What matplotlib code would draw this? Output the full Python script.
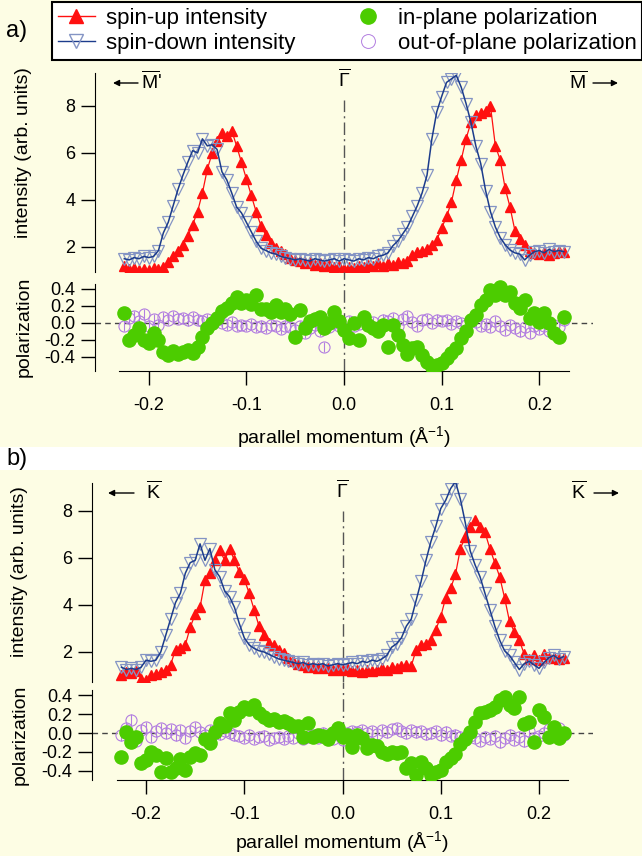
import numpy as np
import matplotlib.pyplot as plt
from matplotlib.lines import Line2D
from matplotlib.patches import Rectangle

plt.rcParams['font.family'] = ['Liberation Sans', 'DejaVu Sans']
plt.rcParams['mathtext.fontset'] = 'custom'
plt.rcParams['mathtext.rm'] = 'Liberation Sans'
plt.rcParams['mathtext.it'] = 'Liberation Sans:italic'
plt.rcParams['mathtext.bf'] = 'Liberation Sans:bold'
plt.rcParams['axes.unicode_minus'] = False

# parallel momentum grid (1/A)
k = np.linspace(-0.225, 0.225, 91)

# ---- panel a: M' - Gamma - M ----
up_a = [1.20, 1.05, 1.10, 1.00, 1.05, 1.00, 1.10, 1.05, 1.15, 1.35,
        1.60, 1.85, 2.10, 2.45, 2.95, 3.50, 4.30, 5.30, 6.00, 6.50,
        6.85, 6.70, 6.95, 6.30, 5.60, 4.90, 4.20, 3.50, 2.90, 2.50,
        2.15, 1.95, 1.85, 1.70, 1.55, 1.45, 1.40, 1.30, 1.35, 1.25,
        1.30, 1.20, 1.25, 1.15, 1.20, 1.05, 1.15, 1.10, 1.20, 1.15,
        1.25, 1.20, 1.30, 1.20, 1.30, 1.25, 1.35, 1.30, 1.40, 1.65,
        1.80, 1.85, 1.90, 2.10, 2.30, 2.80, 3.30, 3.90, 4.85, 5.70,
        6.60, 7.30, 7.60, 7.70, 7.80, 8.00, 6.30, 5.70, 4.50, 3.70,
        2.70, 2.35, 2.10, 1.85, 1.75, 1.70, 1.80, 1.65, 1.75, 1.85,
        1.80]
down_a = [1.50, 1.45, 1.55, 1.50, 1.60, 1.55, 1.60, 1.85, 2.60, 3.05,
          3.75, 4.45, 5.05, 5.60, 6.10, 6.00, 6.60, 6.30, 6.35, 6.15,
          5.20, 4.85, 4.30, 3.70, 3.45, 3.05, 2.65, 2.25, 1.95, 1.85,
          1.75, 1.70, 1.60, 1.55, 1.50, 1.45, 1.50, 1.45, 1.40, 1.50,
          1.45, 1.40, 1.45, 1.50, 1.40, 1.50, 1.45, 1.40, 1.50, 1.45,
          1.55, 1.50, 1.60, 1.65, 1.75, 2.05, 2.25, 2.55, 2.85, 3.30,
          3.75, 4.30, 5.05, 6.60, 7.75, 8.40, 9.00, 9.15, 9.30, 8.80,
          8.10, 7.30, 6.30, 5.55, 4.40, 3.50, 2.85, 2.40, 2.10, 1.87,
          1.75, 1.70, 1.45, 1.65, 1.80, 1.85, 1.75, 1.90, 1.80, 1.85,
          1.80]
inplane_a = [0.12, -0.20, -0.14, -0.06, -0.20, -0.24, -0.12, -0.20, -0.34, -0.38,
             -0.33, -0.36, -0.34, -0.32, -0.35, -0.28, -0.17, -0.06, 0.00, 0.06,
             0.14, 0.18, 0.24, 0.30, 0.23, 0.27, 0.22, 0.33, 0.17, 0.16,
             0.13, 0.21, 0.13, 0.17, 0.10, -0.16, 0.15, -0.06, 0.02, 0.05,
             0.07, -0.06, 0.00, 0.13, 0.02, -0.08, -0.18, 0.00, -0.20, 0.07,
             -0.02, -0.06, -0.10, -0.02, -0.28, -0.02, -0.14, -0.26, -0.36, -0.30,
             -0.28, -0.38, -0.46, -0.52, -0.50, -0.47, -0.41, -0.35, -0.30, -0.18,
             -0.10, 0.03, 0.09, 0.21, 0.27, 0.39, 0.33, 0.42, 0.33, 0.37,
             0.23, 0.18, 0.27, 0.06, 0.12, 0.01, 0.12, 0.00, -0.12, -0.16,
             0.07]
outplane_a = [-0.03, 0.06, 0.08, 0.02, 0.10, -0.04, 0.05, -0.02, 0.07, 0.04,
              0.08, 0.05, 0.06, 0.03, 0.07, 0.04, 0.02, 0.05, -0.01, 0.03,
              0.00, -0.02, 0.01, -0.03, -0.02, -0.04, -0.01, -0.05, -0.03, -0.06,
              -0.02, -0.04, -0.07, -0.03, -0.05, -0.08, -0.04, -0.12, -0.06, -0.02,
              -0.09, -0.28, -0.05, 0.00, -0.03, -0.06, 0.02, -0.04, -0.01, 0.03,
              -0.02, 0.01, -0.05, 0.04, 0.02, 0.06, -0.03, 0.05, 0.08, 0.01,
              -0.04, 0.03, 0.05, 0.00, 0.04, 0.02, 0.03, -0.01, 0.02, 0.00,
              -0.02, 0.03, 0.01, -0.03, -0.01, -0.05, 0.02, -0.04, -0.08, -0.02,
              -0.06, -0.10, -0.05, -0.12, -0.03, -0.07, -0.04, -0.09, -0.02, -0.05,
              0.03]

# ---- panel b: K - Gamma - K ----
up_b = [1.00, 1.15, 1.10, 1.20, 0.85, 0.80, 1.00, 1.05, 1.15, 1.25,
        1.45, 2.10, 2.15, 2.30, 3.05, 3.60, 3.90, 5.05, 5.35, 5.90,
        6.35, 5.90, 6.40, 5.90, 5.40, 5.10, 4.50, 3.80, 3.10, 2.70,
        2.40, 2.30, 2.10, 1.95, 1.75, 1.60, 1.50, 1.45, 1.35, 1.40,
        1.30, 1.35, 1.30, 1.25, 1.30, 1.25, 1.30, 1.20, 1.25, 1.15,
        1.25, 1.20, 1.25, 1.30, 1.25, 1.35, 1.30, 1.40, 1.45, 1.40,
        2.10, 2.30, 2.35, 2.50, 2.95, 3.50, 4.30, 4.70, 5.30, 6.40,
        6.90, 7.30, 7.60, 7.30, 7.10, 6.40, 5.80, 5.20, 4.30, 3.30,
        2.85, 2.50, 1.90, 1.70, 1.85, 1.65, 1.90, 1.75, 1.80, 1.70,
        1.75]
down_b = [1.35, 1.25, 1.30, 1.25, 1.35, 1.65, 1.60, 1.65, 2.00, 2.70,
          3.40, 4.10, 4.50, 5.35, 5.80, 5.90, 6.60, 5.90, 6.40, 5.50,
          5.20, 4.60, 4.35, 3.90, 3.20, 2.60, 2.30, 2.15, 2.05, 2.00,
          1.90, 1.80, 1.70, 1.65, 1.60, 1.55, 1.50, 1.55, 1.45, 1.50,
          1.45, 1.50, 1.40, 1.45, 1.50, 1.45, 1.50, 1.55, 1.50, 1.60,
          1.55, 1.65, 1.60, 1.70, 1.85, 2.20, 2.35, 2.60, 3.10, 3.40,
          4.20, 5.00, 5.90, 6.70, 7.35, 8.10, 8.45, 8.95, 9.25, 8.50,
          7.50, 6.30, 5.70, 5.20, 4.50, 3.80, 3.10, 2.50, 2.05, 1.85,
          1.55, 1.25, 1.50, 1.60, 1.45, 1.30, 1.55, 1.75, 1.85, 1.70,
          1.80]
inplane_b = [-0.26, 0.01, -0.10, -0.04, -0.32, -0.29, -0.20, -0.23, -0.41, -0.27,
             -0.42, -0.37, -0.28, -0.39, -0.25, -0.21, -0.23, -0.06, -0.11, 0.01,
             0.11, 0.07, 0.21, 0.14, 0.22, 0.28, 0.26, 0.30, 0.21, 0.17,
             0.14, 0.15, 0.12, 0.13, 0.11, 0.07, 0.08, -0.04, 0.11, -0.04,
             -0.02, -0.03, -0.06, 0.00, 0.05, -0.04, -0.02, -0.15, -0.02, -0.05,
             -0.16, -0.13, -0.14, -0.20, -0.22, -0.20, -0.21, -0.20, -0.37, -0.32,
             -0.45, -0.31, -0.37, -0.45, -0.41, -0.39, -0.31, -0.27, -0.22, -0.12,
             -0.06, 0.01, 0.12, 0.21, 0.22, 0.24, 0.28, 0.35, 0.38, 0.30,
             0.27, 0.38, 0.10, 0.12, -0.10, 0.24, 0.17, -0.04, 0.06, -0.05,
             0.00]
outplane_b = [-0.02, 0.05, 0.14, -0.08, 0.03, 0.06, -0.04, 0.02, 0.05, 0.00,
              0.04, -0.02, 0.03, -0.05, 0.02, 0.06, 0.01, -0.02, 0.03, 0.00,
              -0.01, 0.02, 0.00, -0.02, -0.03, -0.05, -0.02, -0.06, -0.04, -0.03,
              -0.07, -0.05, -0.04, -0.06, -0.03, -0.05, 0.00, -0.06, -0.04, -0.02,
              -0.05, 0.00, -0.03, -0.06, -0.02, -0.07, 0.00, 0.02, 0.01, 0.03,
              0.00, 0.02, -0.01, 0.03, 0.01, 0.04, 0.05, 0.02, 0.00, 0.03,
              0.01, 0.02, -0.01, 0.00, 0.02, -0.02, 0.01, -0.03, -0.02, -0.04,
              -0.06, -0.03, -0.05, -0.08, -0.04, -0.06, -0.03, -0.10, -0.05, -0.02,
              -0.07, -0.04, -0.09, 0.02, -0.05, -0.03, 0.00, 0.04, 0.02, 0.05,
              -0.02]
inplane_err = 0.04
outplane_err = 0.06

int_ticks = [2, 4, 6, 8]
pol_ticks = [-0.4, -0.2, 0.0, 0.2, 0.4]
k_ticks = [-0.2, -0.1, 0.0, 0.1, 0.2]

BG = '#fdfde4'
RED = '#ff1010'
NAVY = '#1c3c8c'
LBLUE = '#8494c4'
GREEN = '#4ccc00'
PURPLE = '#b27ee0'
W, H = 642, 856


def box(left, top, right, bottom):
    return [left / W, 1 - bottom / H, (right - left) / W, (bottom - top) / H]


def fpos(x, y):
    return (x / W, 1 - y / H)


fig = plt.figure(figsize=(W / 100, H / 100), dpi=100, facecolor=BG)
fig.patches.append(Rectangle(fpos(0, 470), 1, 23 / H, transform=fig.transFigure,
                             facecolor='white', edgecolor='none', zorder=0))


def intensity_axes(rect, ylim, up, down, gamma_top):
    ax = fig.add_axes(rect)
    ax.patch.set_visible(False)
    for s in ('top', 'right', 'bottom'):
        ax.spines[s].set_visible(False)
    ax.set_xlim(-0.255, 0.255)
    ax.set_ylim(*ylim)
    ax.set_xticks([])
    ax.set_yticks(int_ticks)
    ax.tick_params(axis='y', direction='out', length=10, width=1, labelsize=13, pad=4)
    ax.plot([0, 0], [ylim[0], gamma_top], color='#555555', lw=1,
            ls=(0, (9, 3, 1.5, 3)), zorder=1)
    ax.plot(k, up, '-', color=RED, lw=0.9, marker='^', ms=7.5, mfc=RED, mec=RED,
            zorder=2)
    ax.plot(k, down, 'v', ms=8.5, mfc='none', mec=LBLUE, mew=0.9, zorder=3)
    ax.plot(k, down, '-', color=NAVY, lw=1.1, zorder=4)
    return ax


def polarization_axes(rect, ylim, inp, oop):
    ax = fig.add_axes(rect)
    ax.patch.set_visible(False)
    ax.spines['top'].set_visible(False)
    ax.spines['right'].set_visible(False)
    ax.spines['left'].set_bounds(ylim[0], 0.46)
    ax.spines['bottom'].set_bounds(-0.23, 0.23)
    ax.set_xlim(-0.255, 0.255)
    ax.set_ylim(*ylim)
    ax.set_yticks(pol_ticks)
    ax.set_yticklabels(['%.1f' % v for v in pol_ticks])
    ax.set_xticks(k_ticks)
    ax.set_xticklabels(['%.1f' % v for v in k_ticks])
    ax.tick_params(direction='out', length=10, width=1, labelsize=13, pad=4)
    ax.tick_params(axis='x', pad=9)
    ax.axhline(0, color='#444444', lw=1, ls=(0, (4, 3)), zorder=1)
    ax.plot([0, 0], [ylim[0], ylim[1]], color='#555555', lw=1,
            ls=(0, (9, 3, 1.5, 3)), zorder=1, clip_on=False)
    ax.errorbar(k, oop, yerr=outplane_err, fmt='o', ms=8, mfc='none', mec=PURPLE,
                mew=0.8, ecolor=PURPLE, elinewidth=0.8, zorder=2)
    ax.errorbar(k, inp, yerr=inplane_err, fmt='o', ms=9.5, color=GREEN, mec=GREEN,
                ecolor=GREEN, elinewidth=1, zorder=3)
    return ax


# panel a
intensity_axes(box(95, 73, 593, 272), (0.936, 9.40), up_a, down_a, 8.25)
pa = polarization_axes(box(95, 272, 593, 371), (-0.565, 0.60), inplane_a, outplane_a)

# panel b
intensity_axes(box(92, 483, 593, 682), (0.72, 9.19), up_b, down_b, 8.0)
pb = polarization_axes(box(92, 682, 593, 780), (-0.50, 0.543), inplane_b, outplane_b)

# axis labels
for (x, y), txt in [((24, 153), 'intensity (arb. units)'), ((24, 327), 'polarization'),
                    ((20, 572), 'intensity (arb. units)'), ((20, 735), 'polarization')]:
    fig.text(*fpos(x, y), txt, rotation=90, ha='center', va='center', fontsize=14)
for x, y in [(344, 437), (342, 842)]:
    fig.text(*fpos(x, y), 'parallel momentum (Å$^{-1}$)', ha='center', va='center',
             fontsize=14)

fig.text(*fpos(6, 31), 'a)', fontsize=17, va='center')
fig.text(*fpos(6, 459), 'b)', fontsize=17, va='center')

# symmetry points and direction arrows
labels = [((344, 79), r'$\overline{\Gamma}$', 'center'),
          ((141, 81), r"$\overline{\mathrm{M}}$'", 'left'),
          ((578, 81), r'$\overline{\mathrm{M}}$', 'center'),
          ((342, 490), r'$\overline{\Gamma}$', 'center'),
          ((146, 491), r'$\overline{\mathrm{K}}$', 'left'),
          ((579, 491), r'$\overline{\mathrm{K}}$', 'center')]
for (x, y), txt, ha in labels:
    fig.text(*fpos(x, y), txt, ha=ha, va='center', fontsize=14)

arrows = [((138, 83), (113, 83)), ((593, 83), (618, 83)),
          ((134, 493), (108, 493)), ((594, 493), (619, 493))]
for start, end in arrows:
    pa.annotate('', xy=fpos(*end), xytext=fpos(*start), xycoords='figure fraction',
                textcoords='figure fraction', annotation_clip=False,
                arrowprops=dict(arrowstyle='-|>', color='black', lw=1,
                                mutation_scale=9, shrinkA=0, shrinkB=0))

# legend
handles = [Line2D([], [], color=RED, lw=1, marker='^', ms=10, mfc=RED, mec=RED),
           Line2D([], [], color=NAVY, lw=1, marker='v', ms=10, mfc='none', mec=LBLUE),
           Line2D([], [], ls='none', marker='o', ms=11, color=GREEN),
           Line2D([], [], ls='none', marker='o', ms=10, mfc='none', mec=PURPLE, mew=0.7)]
names = ['spin-up intensity', 'spin-down intensity',
         'in-plane polarization', 'out-of-plane polarization']
leg = fig.legend(handles, names, loc='upper left', bbox_to_anchor=fpos(52, 2),
                 ncol=2, fontsize=16, frameon=True, fancybox=False, edgecolor='black',
                 facecolor='white', framealpha=1, borderpad=0.25, borderaxespad=0,
                 handlelength=1.7, handletextpad=0.5, columnspacing=2.4,
                 labelspacing=0.2)
leg.get_frame().set_linewidth(1.5)

fig.savefig('out.png', dpi=100, facecolor=BG)
